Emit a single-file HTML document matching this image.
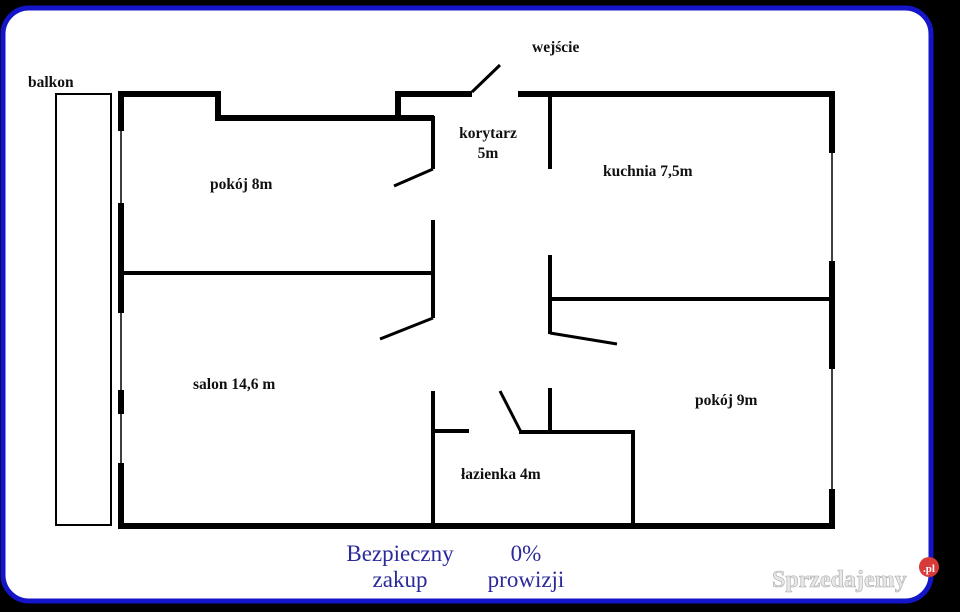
<!DOCTYPE html>
<html><head><style>
html,body{margin:0;padding:0;background:#000;width:960px;height:612px;overflow:hidden}
svg{display:block}
text{font-family:"Liberation Serif",serif}
</style></head><body>
<svg width="960" height="612" viewBox="0 0 960 612">
<rect x="0" y="0" width="960" height="612" fill="#000"/>
<rect x="3" y="8" width="928" height="593" rx="26" fill="#fff" stroke="#1414c8" stroke-width="5"/>
<g stroke="#000" stroke-linecap="square" fill="none">
<rect x="56" y="94" width="55" height="431" stroke-width="2"/>
<g stroke-width="6">
<polyline points="121,128 121,94 218,94 218,118 431,118"/>
<polyline points="398,118 398,94 469,94"/>
<line x1="521" y1="94" x2="832" y2="94"/>
<line x1="832" y1="94" x2="832" y2="150"/>
<line x1="832" y1="264" x2="832" y2="366"/>
<line x1="832" y1="492" x2="832" y2="526"/>
<line x1="121" y1="526" x2="832" y2="526"/>
<line x1="121" y1="206" x2="121" y2="310"/>
<line x1="121" y1="393" x2="121" y2="411"/>
<line x1="121" y1="466" x2="121" y2="526"/>
</g>
<g stroke-width="1.5">
<line x1="121" y1="128" x2="121" y2="206"/>
<line x1="121" y1="310" x2="121" y2="393"/>
<line x1="121" y1="411" x2="121" y2="466"/>
<line x1="832" y1="150" x2="832" y2="264"/>
<line x1="832" y1="366" x2="832" y2="492"/>
</g>
<g stroke-width="4">
<line x1="433" y1="118" x2="433" y2="167"/>
<line x1="433" y1="222" x2="433" y2="316"/>
<line x1="121" y1="273" x2="433" y2="273"/>
<line x1="550" y1="94" x2="550" y2="167"/>
<line x1="550" y1="257" x2="550" y2="332"/>
<line x1="550" y1="299" x2="832" y2="299"/>
<line x1="433" y1="393" x2="433" y2="526"/>
<line x1="433" y1="431" x2="467" y2="431"/>
<line x1="550" y1="390" x2="550" y2="431"/>
<polyline points="521,432 633,432 633,526"/>
</g>
<g stroke-width="3" stroke-linecap="butt">
<line x1="433" y1="169" x2="394" y2="186"/>
<line x1="433" y1="318" x2="380" y2="339"/>
<line x1="550" y1="333" x2="617" y2="344"/>
<line x1="500" y1="391" x2="521" y2="432"/>
<line x1="472" y1="92" x2="500" y2="65"/>
</g>
</g>
<g font-weight="bold" font-size="15.5" fill="#111">
<text x="28" y="87">balkon</text>
<text x="532" y="52">wejście</text>
<text x="488" y="138" text-anchor="middle">korytarz</text>
<text x="488" y="158" text-anchor="middle">5m</text>
<text x="210" y="189">pokój 8m</text>
<text x="603" y="176">kuchnia 7,5m</text>
<text x="193" y="389">salon 14,6 m</text>
<text x="695" y="405">pokój 9m</text>
<text x="461" y="479">łazienka 4m</text>
</g>
<g font-size="23" fill="#2a2a9a" text-anchor="middle">
<text x="400" y="561">Bezpieczny</text>
<text x="400" y="587">zakup</text>
<text x="526" y="561">0%</text>
<text x="526" y="587">prowizji</text>
</g>
<text x="772" y="587" font-family="Liberation Sans,sans-serif" font-weight="bold" font-size="24" fill="#e8e8e8" stroke="#aaa" stroke-width="0.6">Sprzedajemy</text>
<circle cx="929" cy="567" r="10" fill="#d83a3a"/>
<text x="929" y="572" text-anchor="middle" font-family="Liberation Sans,sans-serif" font-weight="bold" font-size="11" fill="#fff">.pl</text>
</svg>
</body></html>
